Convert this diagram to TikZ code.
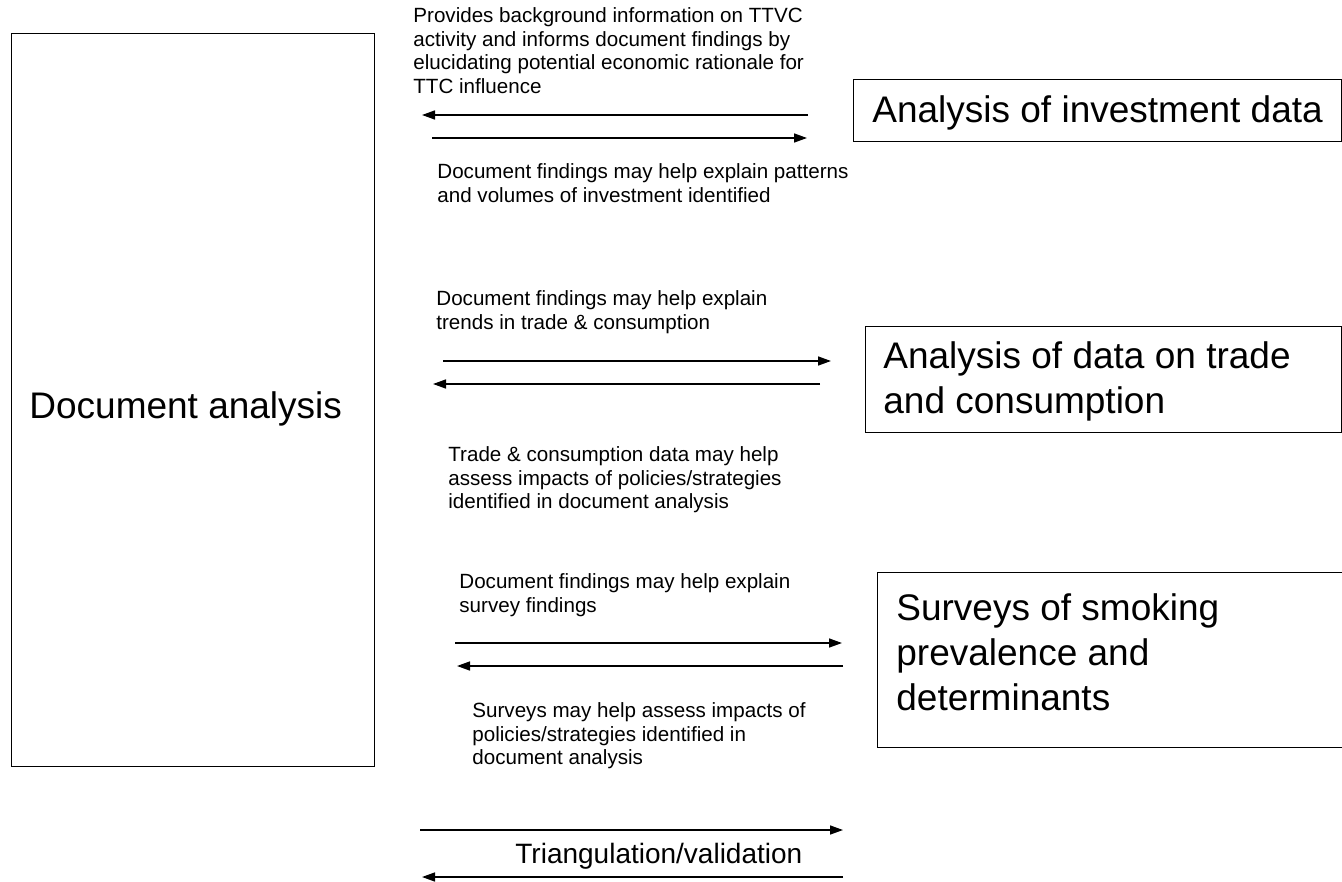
\documentclass[tikz,border=0pt]{standalone}
\usepackage{fontspec}
\setmainfont{Liberation Sans}
\usetikzlibrary{arrows.meta}
\begin{document}
\begin{tikzpicture}[x=0.5pt,y=-0.5pt,
  box/.style={draw=black, line width=0.65pt, rectangle, inner sep=0pt, anchor=north west},
  bigtxt/.style={font=\fontsize{18.5}{22.5}\selectfont, align=left, inner sep=0pt},
  smalltxt/.style={font=\fontsize{10.3}{11.75}\selectfont, align=left, inner sep=0pt, anchor=north west},
  midtxt/.style={font=\fontsize{14}{17}\selectfont, inner sep=0pt, anchor=base west},
  arr/.style={line width=0.75pt, -{Triangle[length=6.5pt,width=4.5pt]}}]
\useasboundingbox (0,0) rectangle (1342,882);

% boxes
\node[box, minimum width=181.5pt, minimum height=366.5pt] (doc) at (11,33) {};
\node[bigtxt, anchor=base west] (doctxt) at (29,418) {Document analysis};

\node[box, minimum width=244pt, minimum height=31pt] (inv) at (853,79) {};
\node[bigtxt, anchor=base west] (invtxt) at (872,123) {Analysis of investment data};

\node[box, minimum width=238pt, minimum height=53pt] (trade) at (865,326) {};
\node[bigtxt, anchor=north west] (tradetxt) at (883,341.5) {Analysis of data on trade\\and consumption};

\node[box, minimum width=240pt, minimum height=87.5pt] (surv) at (877,572) {};
\node[bigtxt, anchor=north west] (survtxt) at (896,593.5) {Surveys of smoking\\prevalence and\\determinants};

% labels
\node[smalltxt] (la) at (413,7.5) {Provides background information on TTVC\\activity and informs document findings by\\elucidating potential economic rationale for\\TTC influence};
\node[smalltxt] (lb) at (437,163.5) {Document findings may help explain patterns\\and volumes of investment identified};
\node[smalltxt] (lc) at (436,290.5) {Document findings may help explain\\trends in trade \& consumption};
\node[smalltxt] (ld) at (448,446.5) {Trade \& consumption data may help\\assess impacts of policies/strategies\\identified in document analysis};
\node[smalltxt] (le) at (459,573.5) {Document findings may help explain\\survey findings};
\node[smalltxt] (lf) at (472,702.5) {Surveys may help assess impacts of\\policies/strategies identified in\\document analysis};
\node[midtxt] (tri) at (515,863) {Triangulation/validation};

% arrow end points
\coordinate (a1s) at (808,115); \coordinate (a1e) at (422,115);
\coordinate (a2s) at (432,138); \coordinate (a2e) at (807,138);
\coordinate (b1s) at (443,361); \coordinate (b1e) at (831,361);
\coordinate (b2s) at (820,384); \coordinate (b2e) at (433,384);
\coordinate (c1s) at (455,643); \coordinate (c1e) at (842,643);
\coordinate (c2s) at (843,666); \coordinate (c2e) at (457,666);
\coordinate (d1s) at (420,830); \coordinate (d1e) at (843,830);
\coordinate (d2s) at (843,877); \coordinate (d2e) at (422,877);

\draw[arr] (a1s) -- (a1e);
\draw[arr] (a2s) -- (a2e);
\draw[arr] (b1s) -- (b1e);
\draw[arr] (b2s) -- (b2e);
\draw[arr] (c1s) -- (c1e);
\draw[arr] (c2s) -- (c2e);
\draw[arr] (d1s) -- (d1e);
\draw[arr] (d2s) -- (d2e);
\end{tikzpicture}
\end{document}
